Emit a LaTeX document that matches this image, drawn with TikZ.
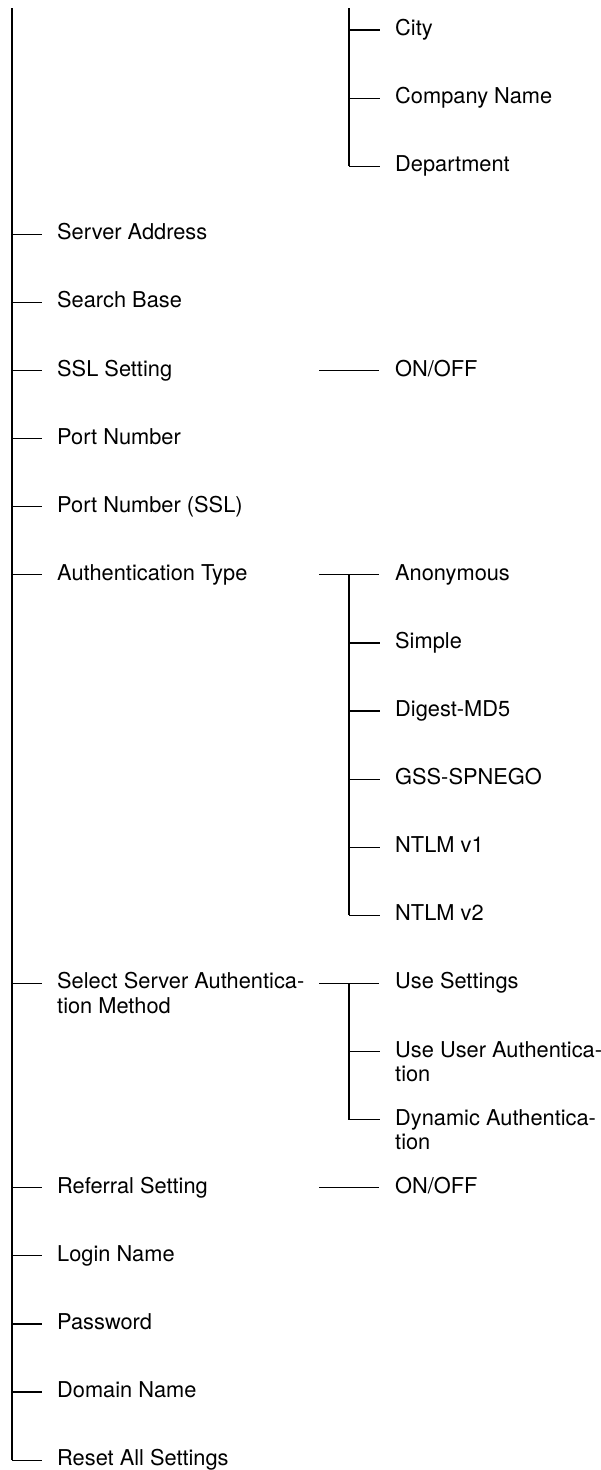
\documentclass[tikz,border=0pt]{standalone}
\usepackage{fontspec}
\setmainfont{TeX Gyre Heros}
\begin{document}
\begin{tikzpicture}[x=1pt,y=-1pt,
  ln/.style={line width=1.2pt},
  lbl/.style={anchor=base west,inner sep=0pt,align=left,font=\fontsize{21.8}{24.5}\selectfont}]
\useasboundingbox (0,0) rectangle (601,1470);
% row positions
\foreach \k in {0,...,21}{
  \coordinate (m\k) at (12,{30+68.1*\k});
  \coordinate (me\k) at (42,{30+68.1*\k});
  \coordinate (p\k) at (319,{30+68.1*\k});
  \coordinate (pe\k) at (379,{30+68.1*\k});
  \coordinate (v\k) at (349,{30+68.1*\k});
  \coordinate (ve\k) at (380,{30+68.1*\k});
}
\coordinate (ttop) at (12,8);
\coordinate (vtop) at (349,8);
% trunk
\draw[ln] (ttop) -- (m21);
\foreach \k in {3,4,5,6,7,8,14,17,18,19,20,21}{\draw[ln] (m\k) -- (me\k);}
% first sub group
\draw[ln] (vtop) -- (v2);
\foreach \k in {0,1,2}{\draw[ln] (v\k) -- (ve\k);}
% SSL
\draw[ln] (p5) -- (pe5);
% Authentication type
\draw[ln] (p8) -- (pe8);
\draw[ln] (v8) -- (v13);
\foreach \k in {9,...,13}{\draw[ln] (v\k) -- (ve\k);}
% Select server auth
\draw[ln] (p14) -- (pe14);
\draw[ln] (v14) -- (v16);
\foreach \k in {15,16}{\draw[ln] (v\k) -- (ve\k);}
% Referral
\draw[ln] (p17) -- (pe17);
% labels
\node[lbl] (city) at (395,35.5) {City};
\node[lbl] (comp) at (395,103.6) {Company Name};
\node[lbl] (dept) at (395,171.7) {Department};
\node[lbl] (sa) at (57,239.8) {Server Address};
\node[lbl] (sb) at (57,307.9) {Search Base};
\node[lbl] (ssl) at (57,376) {SSL Setting};
\node[lbl] (sslo) at (395,376) {ON/OFF};
\node[lbl] (pn) at (57,444.1) {Port Number};
\node[lbl] (pns) at (57,512.2) {Port Number (SSL)};
\node[lbl] (at) at (57,580.3) {Authentication Type};
\node[lbl] (anon) at (395,580.3) {Anonymous};
\node[lbl] (simp) at (395,648.4) {Simple};
\node[lbl] (dig) at (395,716.5) {Digest-MD5};
\node[lbl] (gss) at (395,784.6) {GSS-SPNEGO};
\node[lbl] (nt1) at (395,852.7) {NTLM v1};
\node[lbl] (nt2) at (395,920.8) {NTLM v2};
\node[lbl] (ssam) at (57,1013.4) {Select Server Authentica-\\tion Method};
\node[lbl] (use) at (395,988.9) {Use Settings};
\node[lbl] (uua) at (395,1081.5) {Use User Authentica-\\tion};
\node[lbl] (dyn) at (395,1149.6) {Dynamic Authentica-\\tion};
\node[lbl] (ref) at (57,1193.2) {Referral Setting};
\node[lbl] (refo) at (395,1193.2) {ON/OFF};
\node[lbl] (login) at (57,1261.3) {Login Name};
\node[lbl] (pw) at (57,1329.4) {Password};
\node[lbl] (dom) at (57,1397.5) {Domain Name};
\node[lbl] (reset) at (57,1465.6) {Reset All Settings};
\end{tikzpicture}
\end{document}
